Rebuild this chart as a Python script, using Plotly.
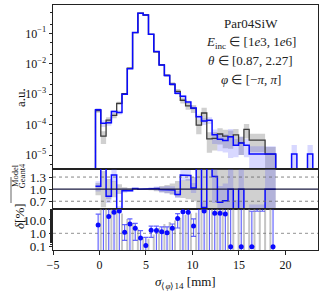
import plotly.graph_objects as go

# ---------------- data ----------------
bin_edges_mm = [-0.43, 0.14, 0.71, 1.28, 1.85, 2.42, 2.99, 3.56, 4.13, 4.70,
                5.27, 5.84, 6.41, 6.98, 7.55, 8.12, 8.69, 9.26, 9.83, 10.40,
                10.97, 11.54, 12.11, 12.68, 13.25, 13.82, 14.39, 14.96, 15.53, 16.10,
                16.67, 17.24, 17.81, 18.38, 18.95, 19.52, 20.09, 20.66, 21.23, 21.80,
                22.37, 22.94, 23.51]

geant4_au = [2.9e-4, 4.2e-5, 1.4e-4, 2.0e-4, 5.0e-4, 1.04e-3, 7.2e-3, 0.105, 0.46, 0.40,
             0.0915, 0.0246, 9.1e-3, 4.15e-3, 2.15e-3, 1.23e-3, 6.3e-4, 4.1e-4, 3.4e-4, 9.6e-5,
             2.4e-4, 3.4e-5, 3.5e-5, 4.9e-5, 4.2e-5, 4.0e-5, 4.6e-5, 2.5e-5, 7.0e-5, 3.1e-5,
             3.1e-5, 3.1e-5, 1.07e-5, 1.07e-5, 0, 0, 0, 0, 0, 0,
             0, 0]

model_au = [3.1e-4, 1.1e-4, 1.15e-4, 2.7e-4, 2.5e-4, 1.0e-3, 6.9e-3, 0.107, 0.46, 0.40,
            0.093, 0.025, 9.0e-3, 4.1e-3, 2.1e-3, 1.07e-3, 8.5e-4, 5.5e-4, 3.5e-4, 1.8e-4,
            1.3e-4, 1.4e-4, 4.6e-5, 3.3e-5, 3.0e-5, 4.0e-5, 2.1e-5, 2.5e-5, 2.1e-5, 1.07e-5,
            1.07e-5, 1.07e-5, 1.07e-5, 1.07e-5, 0, 0, 0, 1.07e-5, 0, 0,
            1.07e-5, 0]

geant4_rel_unc = [0.15, 0.45, 0.25, 0.2, 0.12, 0.05, 0.02, 0.01, 0.01, 0.015,
                  0.03, 0.05, 0.08, 0.1, 0.14, 0.2, 0.22, 0.25, 0.3, 0.5,
                  0.5, 0.65, 0.6, 0.55, 0.6, 0.6, 0.55, 0.6, 0.5, 0.6,
                  0.6, 0.6, 0.7, 0.7, 0, 0, 0, 0, 0, 0,
                  0, 0]

model_rel_unc = [0.12, 0.25, 0.2, 0.12, 0.15, 0.05, 0.02, 0.01, 0.01, 0.015,
                 0.03, 0.05, 0.07, 0.09, 0.1, 0.1, 0.1, 0.1, 0.12, 0.2,
                 0.25, 0.25, 0.5, 0.6, 0.6, 0.8, 0.6, 0.6, 0.6, 0.8,
                 0.8, 0.8, 0.8, 0.8, 0, 0, 0, 1.0, 0, 0,
                 1.0, 0]

delta_pct = [4.2, 160, 18, 38, 48, 1.2, 5.0, 2.4, 0.45, 0.12,
             1.7, 1.6, 1.3, 1.1, 2.4, 13, 42, 38, 3.5, 90,
             47, 300, 32, 32, 28, 0.1, None, 0.1, None, 0.1,
             150, 150, None, 0.1, None, None, None, None, None, None,
             None, None]
delta_upper_pct = [27, 400, 80, 90, 100, 4.5, 12, 5.5, 1.6, 0.5,
                   3.5, 3.5, 3.0, 3.0, 5.0, 30, 100, 100, 12, 200,
                   100, 600, 100, 100, 100, 100, None, 100, None, 45,
                   300, 300, None, 200, None, None, None, None, None, None,
                   None, None]
delta_lower_pct = [0, 0, 0, 0, 0, 0.3, 0, 0.3, 0, 0,
                   0.5, 0, 0, 0, 0, 2.5, 0, 0, 0.6, 0,
                   0, 0, 0, 0, 0, 0, None, 0, None, 0.1,
                   45, 45, None, 0, None, None, None, None, None, None,
                   None, None]
geant4_delta_unc_pct = [100, 100, 100, 100, 30, 12, 6, 2, 0.5, 0.4,
                        0.8, 2.5, 5, 7, 9, 15, 25, 30, 35, 100,
                        100, 100, 100, 100, 100, 100, 100, 100, 100, 100,
                        100, 100, 100, None, None, None, None, None, None, None,
                        None, None]

x_tick_vals = [-5, 0, 5, 10, 15, 20]
au_tick_vals = [1e-5, 1e-4, 1e-3, 1e-2, 1e-1]
au_tick_text = ["10<sup>−5</sup>", "10<sup>−4</sup>", "10<sup>−3</sup>",
                "10<sup>−2</sup>", "10<sup>−1</sup>"]
ratio_tick_vals = [0.7, 1.0, 1.3]
ratio_tick_text = ["0.7", "1.0", "1.3"]
delta_tick_vals = [0.1, 1.0, 10.0]
delta_tick_text = ["0.1", "1.0", "10.0"]
label_lines = ["Par04SiW",
               "<i>E</i><sub>inc</sub> ∈ [1<i>e</i>3, 1<i>e</i>6]",
               "<i>θ</i> ∈ [0.87, 2.27]",
               "<i>φ</i> ∈ [−<i>π</i>, <i>π</i>]"]

# ---------------- style ----------------
X_RANGE = [-5, 23.5]
FLOOR = 1e-9
DFLOOR = 1e-3
FONT = "Liberation Serif"
BLUE = "#0a0aff"
BLACK = "#3a3a3a"
GREY_BAND = "rgba(120,120,120,0.35)"
BLUE_BAND = "rgba(60,60,255,0.2)"
AX = "#222222"

n = len(model_au)


def step_path(edges, vals, floor):
    xs, ys = [edges[0]], [floor]
    for i, v in enumerate(vals):
        h = v if (v is not None and v > 0) else floor
        xs += [edges[i], edges[i + 1]]
        ys += [h, h]
    xs.append(edges[-1])
    ys.append(floor)
    return xs, ys


def rect_path(edges, lo, hi):
    xs, ys = [], []
    for i in range(len(lo)):
        if lo[i] is None:
            continue
        x0, x1 = edges[i], edges[i + 1]
        xs += [x0, x1, x1, x0, x0, None]
        ys += [lo[i], lo[i], hi[i], hi[i], lo[i], None]
    return xs, ys


fig = go.Figure()

# ---- main panel bands ----
g_lo, g_hi, m_lo, m_hi = [], [], [], []
for i in range(n):
    g, r = geant4_au[i], geant4_rel_unc[i]
    if g > 0:
        g_lo.append(g * (1 - r) if r < 1 else FLOOR)
        g_hi.append(g * (1 + r))
    else:
        g_lo.append(None); g_hi.append(None)
    m, r = model_au[i], model_rel_unc[i]
    if m > 0:
        m_lo.append(m * (1 - r) if r < 1 else FLOOR)
        m_hi.append(m * (1 + r))
    else:
        m_lo.append(None); m_hi.append(None)

bx, by = rect_path(bin_edges_mm, g_lo, g_hi)
fig.add_trace(go.Scatter(x=bx, y=by, fill="toself", fillcolor=GREY_BAND, mode="none",
                         hoverinfo="skip", xaxis="x", yaxis="y"))
bx, by = rect_path(bin_edges_mm, m_lo, m_hi)
fig.add_trace(go.Scatter(x=bx, y=by, fill="toself", fillcolor=BLUE_BAND, mode="none",
                         hoverinfo="skip", xaxis="x", yaxis="y"))

sx, sy = step_path(bin_edges_mm, geant4_au, FLOOR)
fig.add_trace(go.Scatter(x=sx, y=sy, mode="lines", line=dict(color=BLACK, width=1.3),
                         xaxis="x", yaxis="y"))
sx, sy = step_path(bin_edges_mm, model_au, FLOOR)
fig.add_trace(go.Scatter(x=sx, y=sy, mode="lines", line=dict(color=BLUE, width=1.5),
                         xaxis="x", yaxis="y"))

# ---- ratio panel ----
ratio = [model_au[i] / geant4_au[i] if geant4_au[i] > 0 else None for i in range(n)]
rg_lo = [1 - geant4_rel_unc[i] if geant4_au[i] > 0 else None for i in range(n)]
rg_hi = [1 + geant4_rel_unc[i] if geant4_au[i] > 0 else None for i in range(n)]
rm_lo = [ratio[i] * (1 - model_rel_unc[i]) if ratio[i] else None for i in range(n)]
rm_hi = [ratio[i] * (1 + model_rel_unc[i]) if ratio[i] else None for i in range(n)]

bx, by = rect_path(bin_edges_mm, rg_lo, rg_hi)
fig.add_trace(go.Scatter(x=bx, y=by, fill="toself", fillcolor=GREY_BAND, mode="none",
                         hoverinfo="skip", xaxis="x2", yaxis="y2"))
bx, by = rect_path(bin_edges_mm, rm_lo, rm_hi)
fig.add_trace(go.Scatter(x=bx, y=by, fill="toself", fillcolor=BLUE_BAND, mode="none",
                         hoverinfo="skip", xaxis="x2", yaxis="y2"))

rx, ry = [], []
prev = None
for i in range(n):
    r = ratio[i]
    if r is None:
        if prev is not None:
            rx.append(None); ry.append(None)
        prev = None
        continue
    rx += [bin_edges_mm[i], bin_edges_mm[i + 1]]
    ry += [r, r]
    prev = r
fig.add_trace(go.Scatter(x=rx, y=ry, mode="lines", line=dict(color=BLUE, width=1.5),
                         xaxis="x2", yaxis="y2"))

# ---- delta panel ----
gx, gy = [], []
for i in range(n):
    t = geant4_delta_unc_pct[i]
    if t is None:
        continue
    e = bin_edges_mm[i + 1]
    gx += [e, e, None]
    gy += [DFLOOR, t, None]
fig.add_trace(go.Scatter(x=gx, y=gy, mode="lines",
                         line=dict(color="rgba(150,150,150,0.55)", width=2),
                         xaxis="x3", yaxis="y3"))
fig.add_trace(go.Scatter(x=X_RANGE, y=[1.0, 1.0], mode="lines",
                         line=dict(color="#777777", width=0.8, dash="dot"),
                         xaxis="x3", yaxis="y3"))

centers = [(bin_edges_mm[i] + bin_edges_mm[i + 1]) / 2 for i in range(n)]
px, py, eu, ed = [], [], [], []
for i in range(n):
    v = delta_pct[i]
    if v is None:
        continue
    lo = delta_lower_pct[i] if delta_lower_pct[i] > 0 else DFLOOR
    px.append(centers[i]); py.append(v)
    eu.append(delta_upper_pct[i] - v)
    ed.append(v - lo)
fig.add_trace(go.Scatter(x=px, y=py, mode="markers",
                         marker=dict(color=BLUE, size=5),
                         error_y=dict(type="data", symmetric=False, array=eu, arrayminus=ed,
                                      color="rgba(20,20,255,0.65)", thickness=1.2, width=2.5),
                         xaxis="x3", yaxis="y3"))

# ---------------- layout ----------------
D3 = 40.7 / 245
D2 = 81.0 / 245
axis_common = dict(showline=True, mirror=True, linecolor=AX, linewidth=1,
                   showgrid=False, zeroline=False, automargin=False)
tick_font = dict(family=FONT, size=12, color="#111")
big_tick_font = dict(family=FONT, size=13, color="#111")

fig.update_layout(
    width=324, height=292,
    margin=dict(l=53, r=6, t=5, b=42, autoexpand=False),
    paper_bgcolor="white", plot_bgcolor="white",
    showlegend=False,
    font=dict(family=FONT, color="#111"),
    xaxis=dict(domain=[0, 1], anchor="y", range=X_RANGE, showticklabels=False,
               ticks="", **axis_common),
    xaxis2=dict(domain=[0, 1], anchor="y2", range=X_RANGE, showticklabels=False,
                ticks="", matches="x", **axis_common),
    xaxis3=dict(domain=[0, 1], anchor="y3", range=X_RANGE, tickvals=x_tick_vals,
                ticks="outside", ticklen=3.5, tickcolor=AX, tickfont=tick_font,
                matches="x", **axis_common),
    yaxis=dict(domain=[D2, 1], anchor="x", type="log", range=[-5.46, -0.07],
               tickvals=au_tick_vals, ticktext=au_tick_text, ticks="outside",
               ticklen=3.5, tickcolor=AX, tickfont=tick_font,
               minor=dict(ticks="outside", ticklen=2, tickcolor=AX, showgrid=False),
               **axis_common),
    yaxis2=dict(domain=[D3, D2], anchor="x2", range=[0.5, 1.5],
                tickvals=ratio_tick_vals, ticktext=ratio_tick_text, ticks="outside",
                ticklen=3.5, tickcolor=AX, tickfont=big_tick_font, **axis_common),
    yaxis3=dict(domain=[0, D3], anchor="x3", type="log", range=[-1.25, 1.8],
                tickvals=delta_tick_vals, ticktext=delta_tick_text, ticks="outside",
                ticklen=3.5, tickcolor=AX, tickfont=big_tick_font,
                minor=dict(ticks="outside", ticklen=2, tickcolor=AX, showgrid=False),
                **axis_common),
)

shapes = []
for yv, dash, col, w in [(1.3, "dot", "#666666", 0.8), (0.7, "dot", "#666666", 0.8),
                         (1.0, "solid", "#1a1a40", 1.2)]:
    shapes.append(dict(type="line", xref="paper", x0=0, x1=1, yref="y2", y0=yv, y1=yv,
                       line=dict(color=col, width=w, dash=dash), layer="above"))
# fraction bar of the ratio label
shapes.append(dict(type="line", xref="paper", yref="paper",
                   x0=(11 - 53) / 265, x1=(11 - 53) / 265,
                   y0=(250 - 203) / 245, y1=(250 - 177) / 245,
                   line=dict(color="#222", width=0.7)))
fig.update_layout(shapes=shapes)

ann = []
for k, (txt, py_) in enumerate(zip(label_lines, [23, 42.5, 61, 79.5])):
    ann.append(dict(text=txt, xref="paper", yref="paper", x=(251 - 53) / 265,
                    y=(250 - py_) / 245, showarrow=False, xanchor="center", yanchor="middle",
                    font=dict(family=FONT, size=13, color="#222")))
ann.append(dict(text="a.u.", xref="paper", yref="paper", x=(11 - 53) / 265,
                y=(250 - 86) / 245, textangle=-90, showarrow=False,
                font=dict(family=FONT, size=13, color="#111")))
ann.append(dict(text="Model", xref="paper", yref="paper", x=(7.5 - 53) / 265,
                y=(250 - 189) / 245, textangle=-90, showarrow=False,
                font=dict(family=FONT, size=8.5, color="#111")))
ann.append(dict(text="Geant4", xref="paper", yref="paper", x=(14.8 - 53) / 265,
                y=(250 - 190) / 245, textangle=-90, showarrow=False,
                font=dict(family=FONT, size=8.5, color="#111")))
ann.append(dict(text="<i>δ</i>[%]", xref="paper", yref="paper", x=(9.5 - 53) / 265,
                y=(250 - 231) / 245, textangle=-90, showarrow=False,
                font=dict(family=FONT, size=13, color="#111")))
ann.append(dict(text="<i>σ</i><sub>⟨<i>φ</i>⟩14</sub> [mm]", xref="paper", yref="paper",
                x=0.5, y=(250 - 282) / 245, showarrow=False, yanchor="middle",
                font=dict(family=FONT, size=13, color="#111")))
fig.update_layout(annotations=ann)

fig.write_html("out.html",
               config={"displayModeBar": False},
               post_script="document.body.style.margin='0';document.body.style.padding='0';")
